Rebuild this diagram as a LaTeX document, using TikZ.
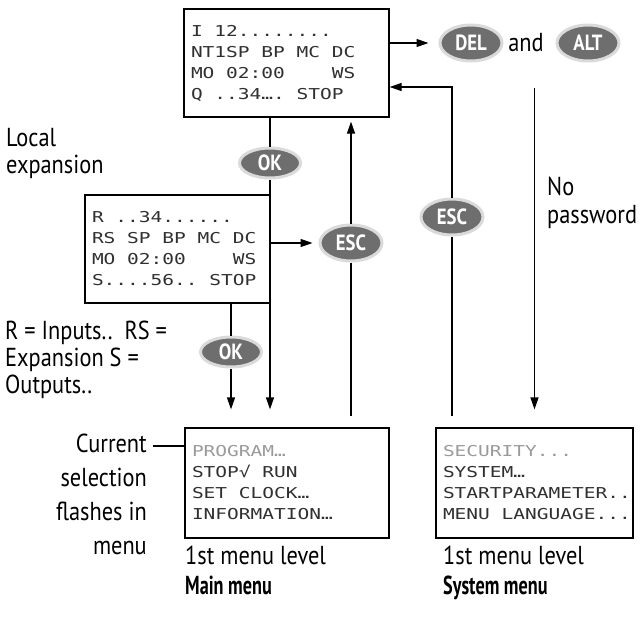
\documentclass[tikz,border=0pt]{standalone}
\usepackage{fontspec}
\usetikzlibrary{arrows.meta,shapes.geometric}
\setmainfont{PT Sans}
\newfontfamily\lcdfont[FakeStretch=1.3]{DejaVu Sans Mono}
\newfontfamily\lblfont[FakeStretch=0.86]{PT Sans}
\newfontfamily\bldfont[FakeStretch=0.7]{PT Sans}
\newfontfamily\btnfont[FakeStretch=0.85]{PT Sans}
\newcommand\sk{\hphantom{M}}
\definecolor{btnfill}{HTML}{6E6E6E}
\definecolor{btnedge}{HTML}{DADADA}
\definecolor{lcdtext}{HTML}{303030}
\definecolor{lcdgray}{HTML}{9A9A9A}
\tikzset{
  lcdbox/.style={draw, line width=1.2pt, rectangle, inner xsep=7pt, inner ysep=0pt,
     align=left, text=lcdtext, font=\lcdfont\fontsize{15}{21}\selectfont},
  btn/.style={ellipse, fill=btnfill, draw=btnedge, line width=3pt, inner sep=0pt,
     minimum width=62pt, minimum height=36pt, text=white,
     font=\btnfont\bfseries\fontsize{22}{24}\selectfont},
  okbtn/.style={minimum width=61pt, minimum height=30pt},
  lbl/.style={inner sep=0pt, font=\lblfont\fontsize{26}{28}\selectfont},
  bld/.style={inner sep=0pt, font=\bldfont\bfseries\fontsize{26}{28}\selectfont},
  conn/.style={line width=1.2pt},
  arr/.style={line width=1.2pt, -{Triangle[length=12pt,width=8pt]}}
}
\begin{document}
\begin{tikzpicture}[x=1pt,y=-1pt]
\useasboundingbox (0,0) rectangle (640,616);
% LCD boxes
\node[lcdbox, minimum width=205pt, minimum height=108pt, text width=191pt] (top) at (286.5,63)
  {I\sk 12........\\NT1SP\sk BP\sk MC\sk DC\\MO\sk 02:00\sk\sk\sk\sk WS\\Q\sk ..34….\sk STOP};
\node[lcdbox, minimum width=185pt, minimum height=108pt, text width=171pt] (mid) at (177.5,249)
  {R\sk ..34......\\RS\sk SP\sk BP\sk MC\sk DC\\MO\sk 02:00\sk\sk\sk\sk WS\\S....56..\sk STOP};
\node[lcdbox, minimum width=204pt, minimum height=110pt, text width=190pt] (main) at (287,483)
  {\textcolor{lcdgray}{PROGRAM…}\\STOP√\sk RUN\\SET\sk CLOCK…\\INFORMATION…};
\node[lcdbox, minimum width=197pt, minimum height=110pt, text width=183pt] (sys) at (534.5,483)
  {\textcolor{lcdgray}{SECURITY...}\\SYSTEM…\\STARTPARAMETER..\\MENU\sk LANGUAGE...};
% buttons
\node[btn, okbtn] (ok1) at (270,163) {OK};
\node[btn, okbtn] (ok2) at (231,352) {OK};
\node[btn] (esc1) at (351,243) {ESC};
\node[btn] (esc2) at (452,217) {ESC};
\node[btn] (del) at (471,43) {DEL};
\node[btn] (alt) at (588,43) {ALT};
\node[lbl, anchor=base] (and) at (526,51) {and};
% labels
\node[lbl, anchor=base west] (loc1) at (6,146) {Local};
\node[lbl, anchor=base west] (loc2) at (6,173) {expansion};
\node[lbl, anchor=base west] (rs1) at (5,339) {R = Inputs..\ \ RS =};
\node[lbl, anchor=base west] (rs2) at (5,366) {Expansion S =};
\node[lbl, anchor=base west] (rs3) at (5,393) {Outputs..};
\node[lbl, anchor=base east] (cur1) at (147,452) {Current};
\node[lbl, anchor=base east] (cur2) at (147,486) {selection};
\node[lbl, anchor=base east] (cur3) at (147,520) {flashes in};
\node[lbl, anchor=base east] (cur4) at (147,554) {menu};
\node[lbl, anchor=base west] (np1) at (547,195) {No};
\node[lbl, anchor=base west] (np2) at (547,223) {password};
\node[lbl, anchor=base west] (ml1) at (185,564) {1st menu level};
\node[bld, anchor=base west] (ml2) at (185,594) {Main menu};
\node[lbl, anchor=base west] (sl1) at (443,564) {1st menu level};
\node[bld, anchor=base west] (sl2) at (443,594) {System menu};
% helper coordinates
\coordinate (retY) at (0,87);
\coordinate (lowY) at (0,416);
\coordinate (npTop) at (534.5,88);
\coordinate (curL) at (153,446);
% connectors
\draw[arr, shorten >=10pt] (top.east |- del) -- (del.west);
\draw[arr] (esc2.north) -- (esc2 |- retY) -- (top.east |- retY);
\draw[conn] (esc2.south) -- (esc2 |- lowY);
\draw[arr, shorten >=18pt] (npTop) -- (sys.north);
\draw[conn] (top.south -| ok1) -- (ok1.north);
\draw[arr, shorten >=18pt] (ok1.south) -- (ok1.south |- main.north);
\draw[conn] (mid.south -| ok2) -- (ok2.north);
\draw[arr, shorten >=18pt] (ok2.south) -- (ok2.south |- main.north);
\draw[arr, shorten >=6pt] (mid.east |- esc1) -- (esc1.west);
\draw[arr, shorten >=4pt] (esc1.north) -- (esc1 |- top.south);
\draw[conn] (esc1.south) -- (esc1 |- lowY);
\draw[conn] (curL) -- (main.west |- curL);
\end{tikzpicture}
\end{document}
